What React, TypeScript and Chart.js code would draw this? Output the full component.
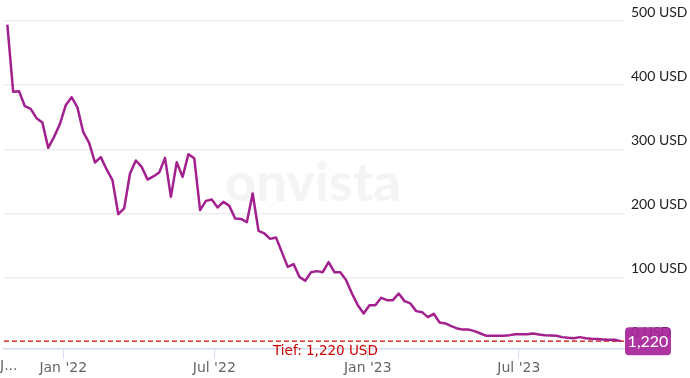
import React, { useEffect, useRef } from "react";
import Chart from "chart.js/auto";

// weekly closes; day 0 = 1 Jan 2022
const firstDay = -67;
const weekStep = 7;
const prices = [
  494.5, 389.6, 390.7, 367.3, 363.1, 348.6, 341.9, 302.3, 319.5, 339.4,
  368.8, 381.3, 365.3, 326.8, 310.1, 279.6, 287.9, 268.7, 252.0, 199.0,
  208.0, 262.5, 282.7, 272.7, 253.0, 257.8, 264.0, 286.8, 226.0, 280.0,
  257.2, 292.5, 286.3, 205.3, 219.8, 222.0, 209.5, 218.2, 212.0, 192.4,
  191.7, 186.6, 231.3, 173.0, 169.0, 160.6, 162.8, 139.9, 117.0, 121.2,
  101.4, 95.2, 108.7, 110.3, 108.7, 124.3, 108.7, 108.7, 96.3, 75.5,
  57.3, 44.4, 57.3, 57.3, 68.7, 65.1, 65.1, 75.5, 63.6, 60.0,
  48.0, 46.4, 38.6, 43.8, 30.4, 28.8, 24.6, 21.0, 19.2, 19.2,
  16.8, 13.2, 9.5, 9.5, 9.5, 9.5, 10.6, 12.1, 12.1, 12.1,
  13.2, 11.7, 10.6, 10.0, 9.5, 7.5, 6.4, 5.9, 7.5, 5.9,
  4.8, 4.4, 3.9, 3.6, 3.3, 1.22,
];
const lowValue = 1.22;
const lowLabel = "Tief: 1,220 USD";
const lastLabel = "1,220";
const yTickValues = [0, 100, 200, 300, 400, 500];
const yUnit = " USD";
const xTickDays = [0, 181, 365, 546];
const xTickLabels = ["Jan '22", "Jul '22", "Jan '23", "Jul '23"];
const cutLabel = "J...";
const watermark = "onvista";

const LINE = "#a2218f";
const BADGE = "rgba(168,37,155,0.93)";
const RED = "#cc0000";
const FONT = "Lato";
const XFONT = "DejaVu Sans";

export default function App() {
  const ref = useRef<HTMLCanvasElement | null>(null);

  useEffect(() => {
    document.body.style.margin = "0";
    const canvas = ref.current;
    if (!canvas) return;

    const overlay = {
      id: "overlay",
      beforeDatasetsDraw(chart: any) {
        const { ctx, chartArea } = chart;
        const y = chart.scales.y.getPixelForValue(lowValue);
        ctx.save();
        // watermark
        ctx.font = `900 54px ${FONT}`;
        ctx.fillStyle = "rgba(0,0,0,0.045)";
        ctx.textAlign = "center";
        ctx.textBaseline = "middle";
        ctx.fillText(watermark, 313, 184);
        // low line
        ctx.strokeStyle = RED;
        ctx.lineWidth = 1.3;
        ctx.setLineDash([5, 3]);
        ctx.beginPath();
        ctx.moveTo(chartArea.left, y);
        ctx.lineTo(chartArea.right, y);
        ctx.stroke();
        ctx.restore();
      },
      afterDraw(chart: any) {
        const { ctx, chartArea } = chart;
        const y = chart.scales.y.getPixelForValue(lowValue);
        ctx.save();
        ctx.font = `13.5px ${XFONT}`;
        ctx.fillStyle = RED;
        ctx.textAlign = "left";
        ctx.textBaseline = "middle";
        ctx.fillText(lowLabel, 273, y + 10);
        // cut label at left
        ctx.font = `14px ${XFONT}`;
        ctx.fillStyle = "#666";
        ctx.fillText(cutLabel, 0, 366);
        // badge
        const bx = chartArea.right + 1;
        const bw = 46;
        const bh = 28;
        const by = y - bh / 2;
        ctx.fillStyle = BADGE;
        ctx.beginPath();
        (ctx as any).roundRect(bx, by, bw, bh, 4);
        ctx.fill();
        ctx.fillStyle = "#fff";
        ctx.font = `16px ${FONT}`;
        ctx.textAlign = "center";
        ctx.fillText(lastLabel, bx + bw / 2, y + 1);
        ctx.restore();
      },
    };

    const chart = new Chart(canvas, {
      type: "line",
      data: {
        datasets: [
          {
            data: prices.map((v, i) => ({ x: firstDay + weekStep * i, y: v })),
            borderColor: LINE,
            borderWidth: 2.5,
            pointRadius: 0,
            tension: 0,
            borderJoinStyle: "round",
            fill: false,
          },
        ],
      },
      options: {
        animation: false,
        responsive: false,
        maintainAspectRatio: false,
        layout: { padding: { left: 4, top: 21, right: 0, bottom: 0 } },
        plugins: { legend: { display: false }, tooltip: { enabled: false } },
        scales: {
          x: {
            type: "linear",
            min: -71,
            max: 672,
            afterBuildTicks: (s: any) => {
              s.ticks = xTickDays.map((v) => ({ value: v }));
            },
            afterFit: (s: any) => {
              s.height = 29;
            },
            ticks: {
              autoSkip: false,
              maxRotation: 0,
              padding: 1,
              color: "#666",
              font: { family: XFONT, size: 14 },
              callback: (v: any) => {
                const i = xTickDays.indexOf(Number(v));
                return i >= 0 ? xTickLabels[i] : "";
              },
            },
            grid: {
              drawOnChartArea: false,
              drawTicks: true,
              tickLength: 10,
              color: "#d3dbee",
            },
            border: { display: true, color: "#d3dbee", width: 1.5 },
          },
          y: {
            position: "right",
            min: -11,
            max: 500,
            afterBuildTicks: (s: any) => {
              s.ticks = yTickValues.map((v) => ({ value: v }));
            },
            afterFit: (s: any) => {
              s.width = 66;
            },
            ticks: {
              padding: 7,
              labelOffset: -9,
              color: "#222",
              font: { family: FONT, size: 14 },
              callback: (v: any) => `${v}${yUnit}`,
            },
            grid: {
              color: (c: any) => (c.tick && c.tick.value === 0 ? "rgba(0,0,0,0)" : "#ececec"),
              lineWidth: 1.5,
              drawTicks: false,
            },
            border: { display: false },
          },
        },
      },
      plugins: [overlay],
    });
    return () => chart.destroy();
  }, []);

  return (
    <div style={{ width: 690, height: 378, position: "relative" }}>
      <canvas ref={ref} width={690} height={378} style={{ display: "block" }} />
    </div>
  );
}
